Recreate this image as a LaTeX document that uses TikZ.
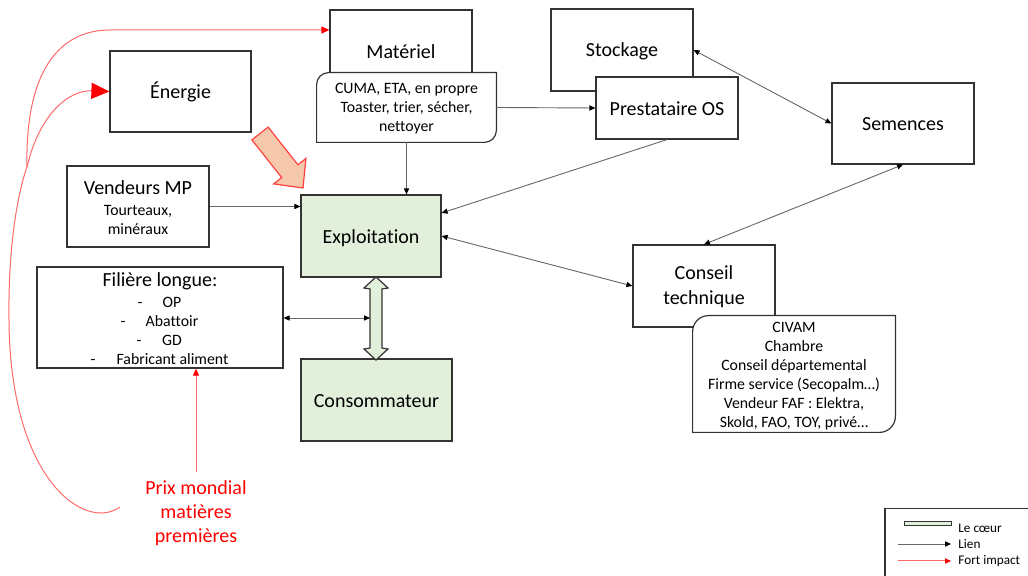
\documentclass[tikz,border=0pt]{standalone}
\usepackage{fontspec}
\setmainfont{Carlito}[Ligatures={NoCommon}]
\usetikzlibrary{arrows.meta}
\definecolor{coeur}{RGB}{226,239,218}
\definecolor{peach}{RGB}{245,200,172}
\definecolor{redline}{RGB}{255,105,105}
\definecolor{redtext}{RGB}{255,0,0}
\begin{document}
\begin{tikzpicture}[x=0.5pt,y=-0.5pt,
  box/.style={draw=black!80, line width=0.6pt, fill=white, inner sep=0pt, font=\fontsize{10}{12.5}\selectfont, align=center},
  txt/.style={inner sep=0pt, font=\fontsize{10}{12}\selectfont, align=center},
  small/.style={inner sep=0pt, font=\fontsize{7.9}{9.5}\selectfont, align=center},
  item/.style={inner sep=0pt, font=\fontsize{7.9}{9.5}\selectfont, text height=5.6pt, text depth=1.6pt},
  leg/.style={inner sep=0pt, font=\fontsize{6.6}{8}\selectfont},
  outline/.style={draw=black!80, line width=0.6pt, fill=white},
  link/.style={draw=black!60, line width=0.45pt, -{Triangle[length=3pt,width=2.6pt,color=black]}},
  dlink/.style={draw=black!60, line width=0.45pt, {Triangle[length=3pt,width=2.6pt,color=black]}-{Triangle[length=3pt,width=2.6pt,color=black]}},
  impact/.style={draw=redline, line width=0.5pt},
]
\useasboundingbox (0,0) rectangle (1028,576);

% ---------- Matériel ----------
\node[box, minimum width=71pt, minimum height=41pt] (mat) at (401,51) {};
\node[txt] (matt) at (401,52) {Matériel};
\node[minimum width=89.5pt, minimum height=34.5pt, inner sep=0pt] (matc) at (406.5,107.5) {};
\draw[outline] (matc.north east) -- ([yshift=6pt]matc.south east) to[out=-90,in=0] ([xshift=-6pt]matc.south east) -- (matc.south west) -- ([yshift=-6pt]matc.north west) to[out=90,in=180] ([xshift=6pt]matc.north west) -- cycle;
\node[small] (matct) at (406.5,108.5) {CUMA, ETA, en propre\\Toaster, trier, sécher,\\nettoyer};

% ---------- Énergie ----------
\node[box, minimum width=70.5pt, minimum height=40.5pt] (ener) at (180.5,91.5) {};
\node[txt] (enert) at (180.5,92) {Énergie};

% ---------- Vendeurs MP ----------
\node[box, minimum width=71pt, minimum height=40.5pt] (vmp) at (138,206.5) {};
\node[txt] (vmpt) at (138,188) {Vendeurs MP};
\node[small] (vmps) at (138,220) {Tourteaux,\\minéraux};

% ---------- Exploitation / Consommateur ----------
\node[box, fill=coeur, minimum width=70pt, minimum height=41pt] (expl) at (371,236) {};
\node[txt] (explt) at (371,238) {Exploitation};
\node[box, fill=coeur, minimum width=75.5pt, minimum height=41pt] (cons) at (376.5,400) {};
\node[txt] (const) at (376.5,401) {Consommateur};
\draw[fill=coeur, draw=black!80, line width=0.6pt] (376,277) -- (388,288) -- (382,289) -- (382,348) -- (388,349) -- (376,360) -- (364,349) -- (370,348) -- (370,289) -- (364,288) -- cycle;

% ---------- Filière longue ----------
\node[box, minimum width=123pt, minimum height=50.5pt] (fil) at (160,317.5) {};
\node[txt] (filt) at (160,281) {Filière longue:};
\node[item] (fd1) at (140,304) {-};
\node[item] (fi1) at (172,304) {OP};
\node[item] (fd2) at (123,323) {-};
\node[item] (fi2) at (172,323) {Abattoir};
\node[item] (fd3) at (139,342) {-};
\node[item] (fi3) at (172,342) {GD};
\node[item] (fd4) at (93,361) {-};
\node[item] (fi4) at (172.5,361) {Fabricant aliment};

% ---------- Right side ----------
\node[box, minimum width=71pt, minimum height=41pt] (stock) at (622,50) {};
\node[txt] (stockt) at (622,51) {Stockage};
\node[box, minimum width=71pt, minimum height=31pt] (prest) at (667,108) {};
\node[txt] (prestt) at (667,108.5) {Prestataire OS};
\node[box, minimum width=71pt, minimum height=40.5pt] (sem) at (903,123.5) {};
\node[txt] (semt) at (903,124) {Semences};
\node[box, minimum width=71pt, minimum height=41pt] (cons2) at (704,286) {};
\node[txt, font=\fontsize{10}{12.5}\selectfont] (cons2t) at (704,287) {Conseil\\technique};
\node[minimum width=101pt, minimum height=58pt, inner sep=0pt] (conc) at (794,374) {};
\draw[outline] (conc.north east) -- ([yshift=8pt]conc.south east) to[out=-90,in=0] ([xshift=-8pt]conc.south east) -- (conc.south west) -- ([yshift=-8pt]conc.north west) to[out=90,in=180] ([xshift=8pt]conc.north west) -- cycle;
\node[small] (conct) at (794,376) {CIVAM\\Chambre\\Conseil départemental\\Firme service (Secopalm…)\\Vendeur FAF : Elektra,\\Skold, FAO, TOY, privé…};

% ---------- Peach block arrow ----------
\draw[fill=peach, draw=red!75, line width=0.6pt] (268.1,127.1) -- (297.9,164.8) -- (305.9,158.5) -- (303,188) -- (273.7,183.9) -- (281.7,177.6) -- (251.9,139.9) -- cycle;

% ---------- Black connectors ----------
\draw[link] (matc.south) -- (matc.south |- expl.north);
\draw[link] (matc.east) -- (prest.west);
\draw[link] (vmp.east) -- (vmp.east -| expl.west);
\draw[link] (prest.south) -- ([yshift=11.5pt]expl.east);
\draw[dlink] (expl.east) -- (cons2.west);
\draw[dlink] (stock.east) -- (sem.west);
\draw[dlink] (sem.south) -- (cons2.north);
\coordinate (dashaft) at (370,318);
\draw[dlink] (fil.east |- dashaft) -- (dashaft);

% ---------- Red (fort impact) ----------
\node[txt, text=redtext] (prix) at (196,513) {Prix mondial\\matières\\premières};
\coordinate (prixtop) at (196,472);
\draw[impact, -{Triangle[length=3.5pt,width=3pt,color=red]}] (prixtop) -- (prixtop |- fil.south);
\coordinate (prixc) at (120,507);
\coordinate (branch) at (27,167);
\draw[impact, -{Triangle[length=9pt,width=8pt,color=red]}] (prixc) .. controls (85,532) and (10,480) .. (9,320) .. controls (8,250) and (17,195) .. (branch) .. controls (40,112) and (70,90) .. (ener.west);
\coordinate (matin) at (110,30);
\draw[impact, -{Triangle[length=4pt,width=3.5pt,color=red]}] (branch) .. controls (25,70) and (60,30) .. (matin) -- (matin -| mat.west);

% ---------- Legend ----------
\draw[draw=black!80, line width=0.6pt] (1030,508.5) -- (885,508.5) -- (885,578);
\node[draw=black!80, fill=coeur, minimum width=23.5pt, minimum height=2pt, inner sep=0pt, line width=0.5pt] (lgc) at (927.5,524) {};
\node[leg, anchor=west] (lgct) at (958,528) {Le cœur};
\coordinate (lg1a) at (898,544);
\coordinate (lg1b) at (951,544);
\draw[link] (lg1a) -- (lg1b);
\node[leg, anchor=west] (lglt) at (958,544) {Lien};
\coordinate (lg2a) at (898,561);
\coordinate (lg2b) at (951,561);
\draw[impact, -{Triangle[length=3pt,width=2.6pt,color=red]}] (lg2a) -- (lg2b);
\node[leg, anchor=west] (lgft) at (958,561) {Fort impact};
\end{tikzpicture}
\end{document}
